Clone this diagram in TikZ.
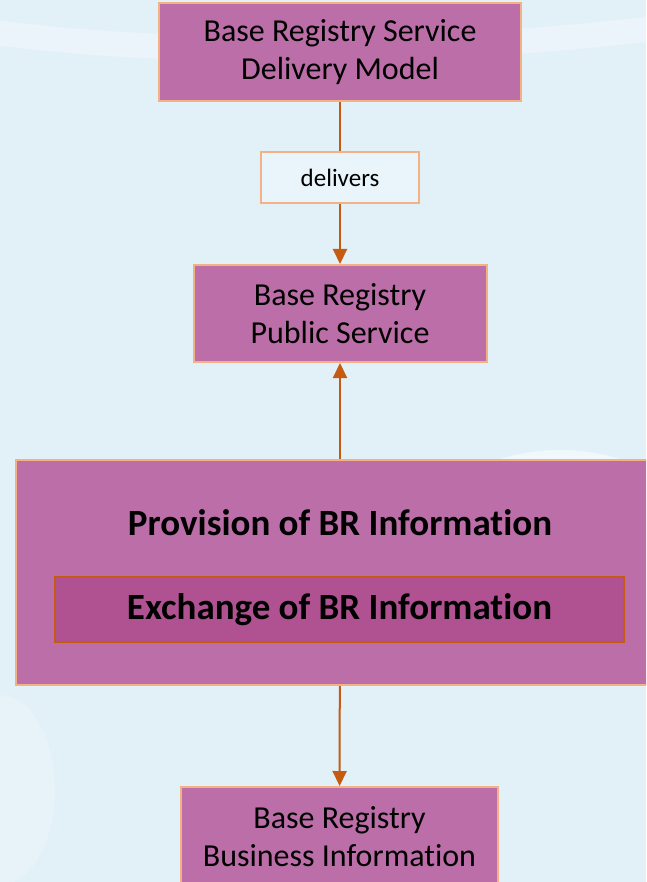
\documentclass[tikz,border=0pt]{standalone}
\usepackage{fontspec}
\setmainfont{Carlito}[Ligatures=NoCommon]
\usetikzlibrary{arrows.meta}
\definecolor{boxfill}{HTML}{BC6EA8}
\definecolor{innerfill}{HTML}{B05292}
\definecolor{peach}{HTML}{F4B183}
\definecolor{rust}{HTML}{C55A11}
\definecolor{sky}{HTML}{E2F0F8}
\definecolor{paleblue}{HTML}{EAF5FB}
\tikzset{
  regbox/.style={rectangle, draw=peach, line width=2pt, fill=boxfill, align=center,
    font=\fontsize{32}{38}\selectfont, inner sep=0pt},
  relbox/.style={rectangle, draw=peach, line width=2pt, fill=paleblue,
    font=\fontsize{25}{30}\selectfont, inner sep=0pt},
  flow/.style={draw=rust, line width=2pt},
  flowarrow/.style={flow, -{Triangle[width=14pt,length=15pt]}}
}
\begin{document}
\begin{tikzpicture}[x=1pt, y=-1pt]
  \useasboundingbox (0,0) rectangle (646,882);
  \clip (0,0) rectangle (646,882);
  % background
  \fill[sky] (0,0) rectangle (646,882);
  \fill[white, opacity=0.3] (-40,15) .. controls (150,45) and (450,45) .. (700,10)
    -- (700,35) .. controls (450,70) and (150,70) .. (-40,40) -- cycle;
  \fill[white, opacity=0.55] (560,560) ellipse (150pt and 110pt);
  \fill[white, opacity=0.2] (0,790) ellipse (55pt and 95pt);

  % boxes
  \node[regbox, minimum width=362pt, minimum height=98pt] (model) at (340,52)
    {Base Registry Service\\Delivery Model};
  \node[relbox, minimum width=158pt, minimum height=51pt] (delivers) at (340,177.5) {delivers};
  \node[regbox, minimum width=293pt, minimum height=97pt] (service) at (340,313.5)
    {Base Registry\\Public Service};
  \node[regbox, minimum width=648pt, minimum height=225pt] (provision) at (340,572.5) {};
  \node[font=\fontsize{37}{44}\selectfont\bfseries] (provlabel) at (340,523)
    {Provision of BR Information};
  \node[regbox, draw=rust, line width=1.5pt, fill=innerfill, minimum width=569pt,
    minimum height=65pt, font=\fontsize{37}{44}\selectfont\bfseries] (exchange) at (339.5,609.5)
    {Exchange of BR Information};
  \node[regbox, minimum width=317pt, minimum height=100pt] (business) at (339.5,837)
    {Base Registry\\Business Information};

  % connectors
  \draw[flow] (model) -- (delivers);
  \draw[flowarrow] (delivers) -- (service);
  \draw[flowarrow] (provision) -- (service);
  \draw[flowarrow] (provision) -- (business);
\end{tikzpicture}
\end{document}
